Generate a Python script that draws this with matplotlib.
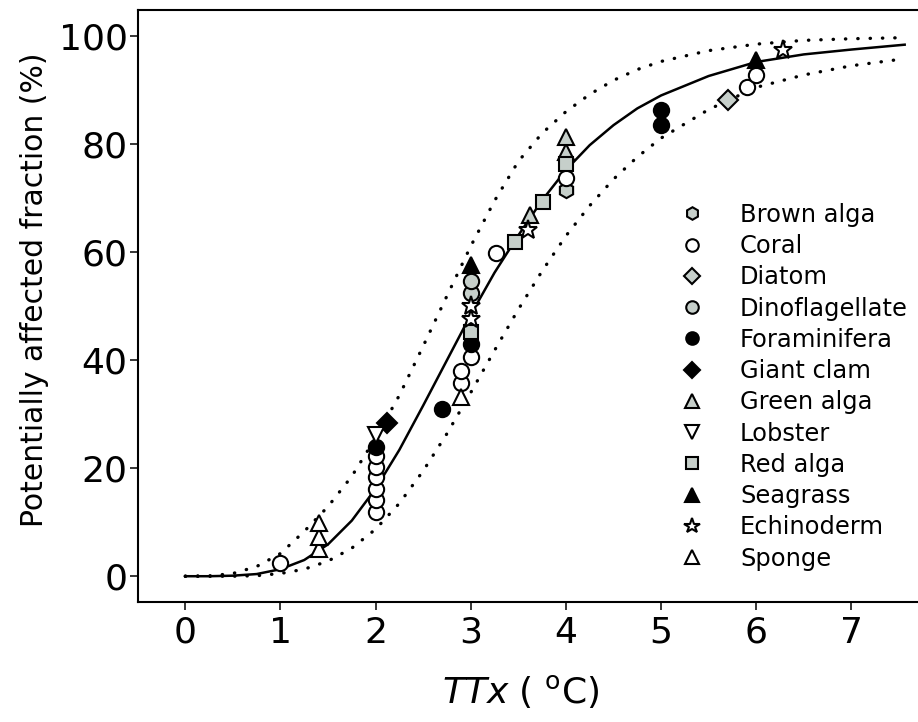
import matplotlib
matplotlib.use('Agg')
import matplotlib.pyplot as plt

plt.rcParams['font.family'] = ['DejaVu Sans']
plt.rcParams['mathtext.fontset'] = 'dejavusans'

# fitted species sensitivity curve (solid) and its band (dotted)
curve_x = [0, 0.25, 0.5, 0.75, 1.0, 1.25, 1.5, 1.75, 2.0, 2.25, 2.5, 2.75, 3.0,
           3.25, 3.5, 3.75, 4.0, 4.25, 4.5, 4.75, 5.0, 5.5, 6.0, 6.5, 7.0, 7.56]
fit_y = [0, 0, 0.1, 0.4, 1.3, 3.0, 5.9, 10.3, 16.2, 23.4, 31.6, 40.0, 48.4,
         56.2, 63.1, 69.6, 75.2, 79.8, 83.5, 86.6, 89.0, 92.6, 95.2, 96.6, 97.5, 98.4]
upper_y = [0, 0.05, 0.5, 1.8, 4.2, 8.3, 12.9, 18.5, 25.6, 33.5, 42.6, 51.9, 61.1,
           69.5, 76.8, 82.0, 86.0, 89.2, 91.8, 93.8, 95.3, 97.3, 98.5, 99.2, 99.5, 99.7]
lower_y = [0, 0, 0, 0.1, 0.5, 1.3, 2.8, 5.2, 8.7, 13.5, 19.5, 26.4, 34.0,
           41.8, 49.4, 56.5, 63.0, 68.6, 73.5, 77.6, 81.1, 86.4, 90.5, 92.8, 94.5, 95.8]

# species points: TTx (oC) and potentially affected fraction (%)
brown_x = [4.0]
brown_y = [71.5]
coral_x = [1.0, 2.0, 2.0, 2.0, 2.0, 2.0, 2.0, 2.9, 2.9, 3.0, 3.27, 4.0, 5.9, 6.0]
coral_y = [2.4, 11.9, 14.1, 16.2, 18.3, 20.3, 22.2, 35.7, 38.0, 40.6, 59.8, 73.8, 90.5, 92.8]
diatom_x = [5.7]
diatom_y = [88.1]
dino_x = [3.0, 3.0]
dino_y = [52.4, 54.7]
foram_x = [2.0, 2.7, 3.0, 5.0, 5.0]
foram_y = [23.9, 31.0, 43.0, 83.5, 86.3]
clam_x = [2.12]
clam_y = [28.3]
green_x = [3.62, 4.0, 4.0]
green_y = [66.9, 78.6, 81.3]
lobster_x = [2.0]
lobster_y = [26.1]
red_x = [3.0, 3.47, 3.76, 4.0]
red_y = [45.2, 61.9, 69.3, 76.4]
seagrass_x = [3.0, 6.0]
seagrass_y = [57.6, 95.6]
echino_x = [3.0, 3.0, 3.6, 6.28]
echino_y = [47.6, 50.0, 64.1, 97.5]
sponge_x = [1.4, 1.4, 1.4, 2.9]
sponge_y = [5.1, 7.3, 9.8, 33.2]

gray = '#c6cfca'
species = [
    ('Brown alga', brown_x, brown_y, 'h', gray, 11),
    ('Coral', coral_x, coral_y, 'o', 'white', 11),
    ('Diatom', diatom_x, diatom_y, 'D', gray, 10),
    ('Dinoflagellate', dino_x, dino_y, 'o', gray, 11),
    ('Foraminifera', foram_x, foram_y, 'o', 'black', 11),
    ('Giant clam', clam_x, clam_y, 'D', 'black', 10),
    ('Green alga', green_x, green_y, '^', gray, 11.5),
    ('Lobster', lobster_x, lobster_y, 'v', 'white', 11.5),
    ('Red alga', red_x, red_y, 's', gray, 10.5),
    ('Seagrass', seagrass_x, seagrass_y, '^', 'black', 11.5),
    ('Echinoderm', echino_x, echino_y, '*', 'white', 14),
    ('Sponge', sponge_x, sponge_y, '^', 'white', 11.5),
]

fig = plt.figure(figsize=(9.18, 7.22), dpi=100)
ax = fig.add_axes([0.150, 0.166, 0.85, 0.820])

dots = (0, (0.1, 3.6))
ax.plot(curve_x, upper_y, color='black', lw=2.4, linestyle=dots, dash_capstyle='round', zorder=2)
ax.plot(curve_x, lower_y, color='black', lw=2.4, linestyle=dots, dash_capstyle='round', zorder=2)
ax.plot(curve_x, fit_y, color='black', lw=1.8, zorder=2)

for name, xs, ys, mk, fc, ms in species:
    ax.plot(xs, ys, linestyle='none', marker=mk, mfc=fc, mec='black', mew=1.5,
            ms=ms, label=name, zorder=3)

ax.set_xlim(-0.5, 7.7)
ax.set_ylim(-4.8, 104.8)
ax.set_xticks(range(0, 8))
ax.set_yticks(range(0, 101, 20))
ax.spines['right'].set_visible(False)
for s in ['left', 'bottom', 'top']:
    ax.spines[s].set_linewidth(1.5)
ax.tick_params(axis='both', direction='out', length=5.8, width=1.1, labelsize=26)
ax.tick_params(axis='y', pad=1.5)
ax.tick_params(axis='x', pad=4)

ax.set_ylabel('Potentially affected fraction (%)', fontsize=21.5)
ax.yaxis.set_label_coords(-0.114, 0.527)
ax.set_xlabel(r'$TTx$ ( $^{\mathrm{o}}$C)', fontsize=26)
ax.xaxis.set_label_coords(0.491, -0.119)

ax.legend(loc='upper left', bbox_to_anchor=(0.7407, 0.719), bbox_transform=fig.transFigure,
          frameon=False, fontsize=17.4, handlelength=1.0, handletextpad=1.48,
          labelspacing=0.30, borderpad=0, borderaxespad=0, numpoints=1, markerscale=0.82)

fig.savefig('out.png', dpi=100)
